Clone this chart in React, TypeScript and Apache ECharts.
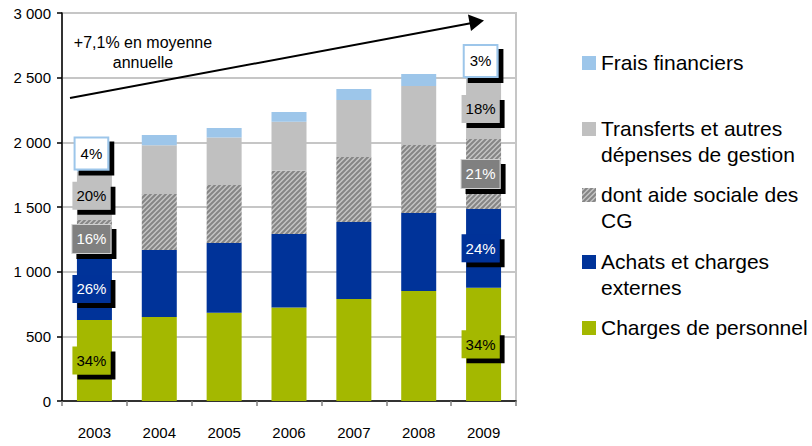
import React, { useEffect, useRef } from 'react';
import * as echarts from 'echarts';

const years = ['2003', '2004', '2005', '2006', '2007', '2008', '2009'];
const personnel = [626, 650, 683, 722, 789, 851, 876];
const achats = [480, 518, 539, 569, 595, 603, 609];
const aideSociale = [294, 433, 448, 490, 503, 526, 541];
const transferts = [375, 376, 367, 379, 441, 456, 464];
const frais = [75, 80, 74, 75, 85, 93, 77];

const sharePersonnel = ['34%', '', '', '', '', '', '34%'];
const shareAchats = ['26%', '', '', '', '', '', '24%'];
const shareAide = ['16%', '', '', '', '', '', '21%'];
const shareTransferts = ['20%', '', '', '', '', '', '18%'];
const shareFrais = ['4%', '', '', '', '', '', '3%'];

const seriesNames = [
  'Charges de personnel',
  'Achats et charges externes',
  'dont aide sociale des CG',
  'Transferts et autres dépenses de gestion',
  'Frais financiers',
];
const legendLines = [
  ['Frais financiers'],
  ['Transferts et autres', 'dépenses de gestion'],
  ['dont aide sociale des', 'CG'],
  ['Achats et charges', 'externes'],
  ['Charges de personnel'],
];
const annotationText = '+7,1% en moyenne\nannuelle';

const FONT = '"Liberation Sans", Arial, sans-serif';
const GREEN = '#a4b800';
const BLUE = '#003399';
const GRAY = '#c0c0c0';
const LIGHTBLUE = '#9dc6ea';

function makeHatch(): HTMLCanvasElement {
  const c = document.createElement('canvas');
  const s = 5;
  c.width = s;
  c.height = s;
  const ctx = c.getContext('2d')!;
  ctx.fillStyle = '#c4c4c4';
  ctx.fillRect(0, 0, s, s);
  ctx.strokeStyle = '#858585';
  ctx.lineWidth = 2;
  ctx.beginPath();
  ctx.moveTo(0, s);
  ctx.lineTo(s, 0);
  ctx.moveTo(-s, s);
  ctx.lineTo(s, -s);
  ctx.moveTo(0, 2 * s);
  ctx.lineTo(2 * s, 0);
  ctx.stroke();
  return c;
}

function fmtThousands(v: number): string {
  if (v >= 1000) {
    return Math.floor(v / 1000) + ' ' + String(v % 1000).padStart(3, '0');
  }
  return String(v);
}

export default function App() {
  const ref = useRef<HTMLDivElement>(null);

  useEffect(() => {
    if (!ref.current) return;
    const chart = echarts.init(ref.current, undefined, { renderer: 'svg' });
    const hatch = { image: makeHatch(), repeat: 'repeat' as const };

    const mkLabel = (bg: string, color: string, extra: any = {}) => ({
      show: true,
      position: 'inside',
      offset: [-3, 0],
      fontSize: 15,
      fontFamily: FONT,
      color,
      backgroundColor: bg,
      padding: [7, 4, 6, 4],
      shadowColor: '#000',
      shadowBlur: 0,
      shadowOffsetX: 5,
      shadowOffsetY: 5,
      ...extra,
    });

    const mkData = (vals: number[], shares: string[]) =>
      vals.map((v, i) => ({ value: v, label: { show: shares[i] !== '' } }));

    const defs = [
      { vals: personnel, shares: sharePersonnel, color: GREEN, label: mkLabel(GREEN, '#000') },
      { vals: achats, shares: shareAchats, color: BLUE, label: mkLabel(BLUE, '#fff') },
      {
        vals: aideSociale,
        shares: shareAide,
        color: hatch,
        label: mkLabel('#808080', '#fff', { borderColor: '#d0d0d0', borderWidth: 1 }),
      },
      { vals: transferts, shares: shareTransferts, color: GRAY, label: mkLabel(GRAY, '#000') },
      {
        vals: frais,
        shares: shareFrais,
        color: LIGHTBLUE,
        label: mkLabel('#fff', '#000', {
          borderColor: LIGHTBLUE,
          borderWidth: 2,
          padding: [8, 5, 7, 5],
          offset: [-3, -13],
        }),
      },
    ];

    const series = defs.map((d, k) => ({
      name: seriesNames[k],
      type: 'bar',
      stack: 'total',
      barWidth: 35,
      data: mkData(d.vals, d.shares),
      itemStyle: { color: d.color },
      label: { ...d.label, show: false, formatter: (p: any) => d.shares[p.dataIndex] },
      emphasis: { disabled: true },
    }));

    const legendColors: any[] = [LIGHTBLUE, GRAY, hatch, BLUE, GREEN];
    const legendTop = [62, 128, 194, 261, 327];
    const legendGraphics: any[] = [];
    legendLines.forEach((lines, i) => {
      legendGraphics.push({
        type: 'rect',
        shape: { x: 582, y: legendTop[i] - 6, width: 14, height: 14 },
        style: { fill: legendColors[i] },
      });
      lines.forEach((ln, j) => {
        legendGraphics.push({
          type: 'text',
          x: 601,
          y: legendTop[i] + j * 26,
          style: {
            text: ln,
            fontSize: 21,
            fontFamily: FONT,
            fill: '#000',
            verticalAlign: 'middle',
          },
        });
      });
    });

    chart.setOption({
      animation: false,
      grid: {
        left: 62,
        right: 296,
        top: 13,
        bottom: 45,
        show: true,
        borderColor: '#c6c6c6',
        borderWidth: 2,
      },
      xAxis: {
        type: 'category',
        data: years,
        axisLine: { lineStyle: { color: '#000', width: 1.5 } },
        axisTick: { show: true, length: 5, lineStyle: { color: '#808080', width: 1.5 } },
        axisLabel: { fontSize: 15, fontFamily: FONT, color: '#000', margin: 24 },
      },
      yAxis: {
        type: 'value',
        min: 0,
        max: 3000,
        interval: 500,
        axisLine: { show: true, lineStyle: { color: '#000', width: 1.5 } },
        axisTick: { show: true, length: 5, lineStyle: { color: '#000', width: 1.5 } },
        splitLine: { lineStyle: { color: '#c6c6c6', width: 2 } },
        axisLabel: {
          fontSize: 15,
          fontFamily: FONT,
          color: '#000',
          margin: 11,
          formatter: (v: number) => fmtThousands(v),
        },
      },
      series,
      graphic: [
        {
          type: 'text',
          x: 143,
          y: 52,
          style: {
            text: annotationText,
            fontSize: 16,
            fontFamily: FONT,
            fill: '#000',
            align: 'center',
            verticalAlign: 'middle',
            lineHeight: 20,
          },
          z: 100,
        },
        {
          type: 'line',
          shape: { x1: 70, y1: 98, x2: 472, y2: 23 },
          style: { stroke: '#000', lineWidth: 2 },
          z: 100,
        },
        {
          type: 'polygon',
          shape: { points: [[484, 20.5], [468, 14.5], [471, 31]] },
          style: { fill: '#000' },
          z: 100,
        },
        ...legendGraphics,
      ],
    });

    return () => chart.dispose();
  }, []);

  return (
    <div
      ref={ref}
      style={{ position: 'absolute', left: 0, top: 0, width: 812, height: 446 }}
    />
  );
}
